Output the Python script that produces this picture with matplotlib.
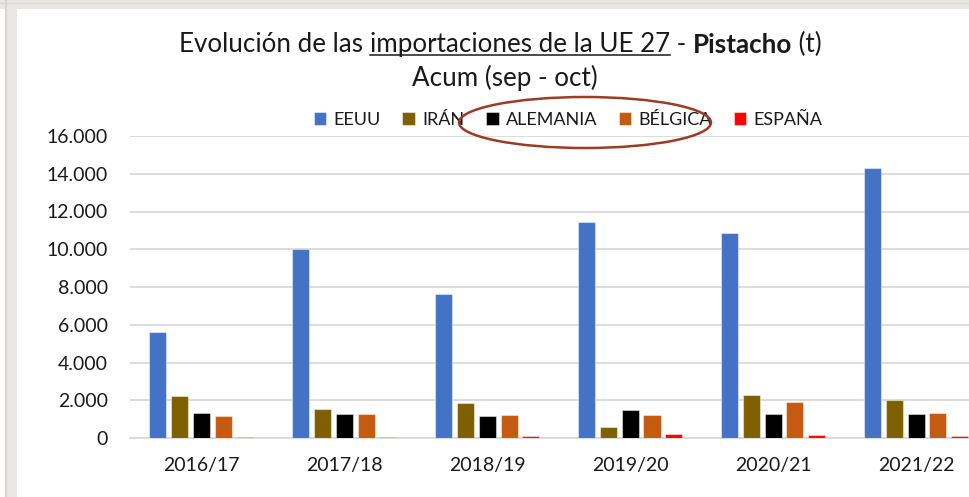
import numpy as np
import matplotlib
matplotlib.use("Agg")
import matplotlib.pyplot as plt
from matplotlib.patches import Ellipse, Rectangle
from matplotlib.lines import Line2D
from matplotlib.ticker import FuncFormatter

# Datos (t), acumulado sep - oct
campanas = ["2016/17", "2017/18", "2018/19", "2019/20", "2020/21", "2021/22"]
paises = ["EEUU", "IRÁN", "ALEMANIA", "BÉLGICA", "ESPAÑA"]
eeuu = [5620, 10000, 7630, 11440, 10860, 14330]
iran = [2230, 1520, 1860, 590, 2280, 2020]
alemania = [1310, 1270, 1150, 1470, 1270, 1270]
belgica = [1150, 1270, 1200, 1220, 1910, 1310]
espana = [60, 50, 120, 230, 160, 110]
colores = ["#4472c4", "#7f6000", "#000000", "#c55a11", "#ff0000"]

series = [eeuu, iran, alemania, belgica, espana]

plt.rcParams["font.family"] = ["Lato", "DejaVu Sans"]

W, H = 969, 497
fig = plt.figure(figsize=(W / 100, H / 100), dpi=100)

# Marco gris de la captura
fig.patches.append(Rectangle((0, (H - 8.5) / H), 1, 8.5 / H, transform=fig.transFigure,
                             facecolor="#e9e7e4", edgecolor="none", zorder=0))
fig.patches.append(Rectangle((5 / W, 0), 12 / W, 1, transform=fig.transFigure,
                             facecolor="#e9e7e4", edgecolor="none", zorder=0))
fig.lines.append(Line2D([5.5 / W, 5.5 / W], [0, 1], transform=fig.transFigure,
                        color="#d2d2d2", lw=1.2))
fig.lines.append(Line2D([0, 1], [(H - 3) / H, (H - 3) / H], transform=fig.transFigure,
                        color="#d8d8d8", lw=1.0))

# Eje: se extiende más allá del borde derecho (la captura está recortada)
left, right = 130, 987.5
bottom, top = 438, 136
ax = fig.add_axes([left / W, (H - bottom) / H, (right - left) / W, (bottom - top) / H])

x = np.arange(len(campanas))
ancho = 0.119
paso = 0.1525
for i, (vals, nombre, c) in enumerate(zip(series, paises, colores)):
    ax.bar(x + (i - 2) * paso, vals, width=ancho, color=c, label=nombre,
           edgecolor=(1, 1, 1, 0.45), linewidth=0.8, zorder=3)

ax.set_xlim(-0.5, len(campanas) - 0.5)
ax.set_ylim(0, 16000)
ax.set_yticks(np.arange(0, 16001, 2000))
ax.yaxis.set_major_formatter(FuncFormatter(lambda v, p: f"{int(v):,}".replace(",", ".")))
ax.set_xticks(x)
ax.set_xticklabels(campanas)
ax.grid(axis="y", color="#d9d9d9", linewidth=1.3, zorder=0)
for s in ["top", "right", "left"]:
    ax.spines[s].set_visible(False)
ax.spines["bottom"].set_color("#d9d9d9")
ax.spines["bottom"].set_linewidth(1.3)
ax.tick_params(axis="both", length=0, labelsize=14, colors="#1a1a1a")
ax.tick_params(axis="y", pad=16)
ax.tick_params(axis="x", pad=14)

# Leyenda
ax.legend(loc="center", bbox_to_anchor=(568 / W, (H - 120) / H), bbox_transform=fig.transFigure,
          ncol=5, frameon=False, fontsize=13, handlelength=0.7, handleheight=0.7,
          handletextpad=0.4, columnspacing=1.2, labelcolor="#1a1a1a")

# Título con partes subrayadas y en negrita
fs_t = 18.7
partes = [("Evolución de las ", "normal", False),
          ("importaciones de la UE 27", "normal", True),
          (" - ", "normal", False),
          ("Pistacho", "bold", False),
          (" (t)", "normal", False)]
textos = []
prev = None
for s, w, u in partes:
    if prev is None:
        t = fig.text(179 / W, (H - 52) / H, s, fontsize=fs_t, fontweight=w,
                     ha="left", va="baseline", color="#1a1a1a")
    else:
        t = ax.annotate(s, xy=(1, 0), xycoords=prev, ha="left", va="bottom",
                        fontsize=fs_t, fontweight=w, color="#1a1a1a", annotation_clip=False)
    textos.append((t, u))
    prev = t
fig.text(505 / W, (H - 86) / H, "Acum (sep - oct)", fontsize=fs_t, ha="center",
         va="baseline", color="#1a1a1a")

fig.canvas.draw()
r = fig.canvas.get_renderer()
for t, u in textos:
    if u:
        bb = t.get_window_extent(r)
        yl = (H - 54.5) / H
        fig.lines.append(Line2D([bb.x0 / W, bb.x1 / W], [yl, yl], transform=fig.transFigure,
                                color="#1a1a1a", lw=1.1))

# Elipse roja de resaltado
fig.patches.append(Ellipse((585 / W, (H - 122.5) / H), 252 / W, 51 / H, transform=fig.transFigure,
                           facecolor="none", edgecolor="#9e3b24", linewidth=1.8, zorder=10))

fig.savefig("out.png", dpi=100)
